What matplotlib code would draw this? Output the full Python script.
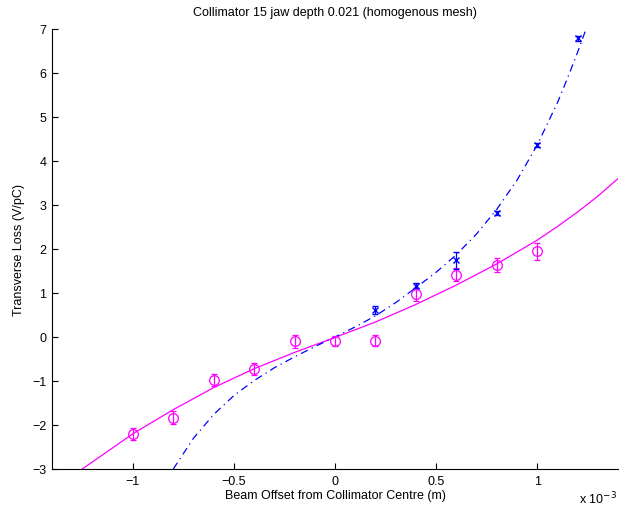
import numpy as np
import matplotlib
matplotlib.use("AGG")
import matplotlib.pyplot as plt

plt.rcParams['font.family'] = ['Liberation Sans', 'DejaVu Sans']

# Beam offset in units of 1e-3 m
offset_mag = [-1.0, -0.8, -0.6, -0.4, -0.2, 0.0, 0.2, 0.4, 0.6, 0.8, 1.0]
loss_mag = [-2.2, -1.83, -0.98, -0.72, -0.1, -0.09, -0.08, 0.97, 1.42, 1.64, 1.95]
err_mag = [0.14, 0.15, 0.13, 0.14, 0.14, 0.11, 0.12, 0.15, 0.14, 0.16, 0.19]

offset_blue = [0.2, 0.4, 0.6, 0.8, 1.0, 1.2]
loss_blue = [0.61, 1.17, 1.74, 2.82, 4.37, 6.79]
err_blue = [0.09, 0.05, 0.2, 0.05, 0.05, 0.06]

# fitted curves
fit_mag_x = [-1.25, -1.0, -0.8, -0.6, -0.4, -0.2, 0.0, 0.2, 0.4, 0.6, 0.8, 1.0, 1.1, 1.2, 1.3, 1.4]
fit_mag_y = [-3.0, -2.2, -1.65, -1.15, -0.72, -0.35, -0.01, 0.34, 0.74, 1.18, 1.66, 2.2, 2.51, 2.84, 3.2, 3.6]

fit_blue_x = [-0.8, -0.7, -0.6, -0.5, -0.4, -0.3, -0.2, -0.1, 0.0, 0.1, 0.2, 0.3,
              0.4, 0.5, 0.6, 0.7, 0.8, 0.9, 1.0, 1.1, 1.15, 1.2, 1.25]
fit_blue_y = [-3.0, -2.3, -1.76, -1.33, -0.99, -0.7, -0.45, -0.22, 0.0, 0.23, 0.48, 0.78,
              1.12, 1.47, 1.87, 2.34, 2.9, 3.56, 4.36, 5.32, 5.88, 6.47, 7.1]

xticks = [-1, -0.5, 0, 0.5, 1]
xticklabels = ['\u22121', '\u22120.5', '0', '0.5', '1']
yticks = list(range(-3, 8))

fig = plt.figure(figsize=(6.2, 5.06), dpi=100)
ax = fig.add_axes([52 / 620, 36 / 506, 566 / 620, 440 / 506])

ax.plot(fit_mag_x, fit_mag_y, '-', color=(1, 0, 1), lw=0.9)
ax.plot(fit_blue_x, fit_blue_y, color=(0, 0, 1), lw=0.9, dashes=(6, 3.5, 1, 3.5))

ax.errorbar(offset_mag, loss_mag, yerr=err_mag, fmt='o', color=(1, 0, 1),
            mfc='none', ms=7, mew=0.9, elinewidth=0.9, capsize=2.5)
ax.errorbar(offset_blue, loss_blue, yerr=err_blue, fmt='x', color=(0, 0, 1),
            ms=5, mew=1.0, elinewidth=0.9, capsize=2.5)

ax.set_xlim(-1.4, 1.4)
ax.set_ylim(-3, 7)
ax.set_xticks(xticks)
ax.set_xticklabels(xticklabels)
ax.set_yticks(yticks)
ax.set_yticklabels([str(v).replace('-', '\u2212') for v in yticks])

for s in ['top', 'right']:
    ax.spines[s].set_visible(False)
for s in ['left', 'bottom']:
    ax.spines[s].set_linewidth(0.8)
ax.tick_params(direction='in', length=4, width=0.8, labelsize=9, pad=4)

ax.set_xlabel('Beam Offset from Collimator Centre (m)', fontsize=9, labelpad=2)
ax.set_ylabel('Transverse Loss (V/pC)', fontsize=9, labelpad=5)
ax.set_title('Collimator 15 jaw depth 0.021 (homogenous mesh)', fontsize=9, pad=10)
fig.text(598 / 620, 1 - 499 / 506, 'x 10$^{\u22123}$', fontsize=9, ha='center', va='center')

fig.savefig('out.png', dpi=100)
